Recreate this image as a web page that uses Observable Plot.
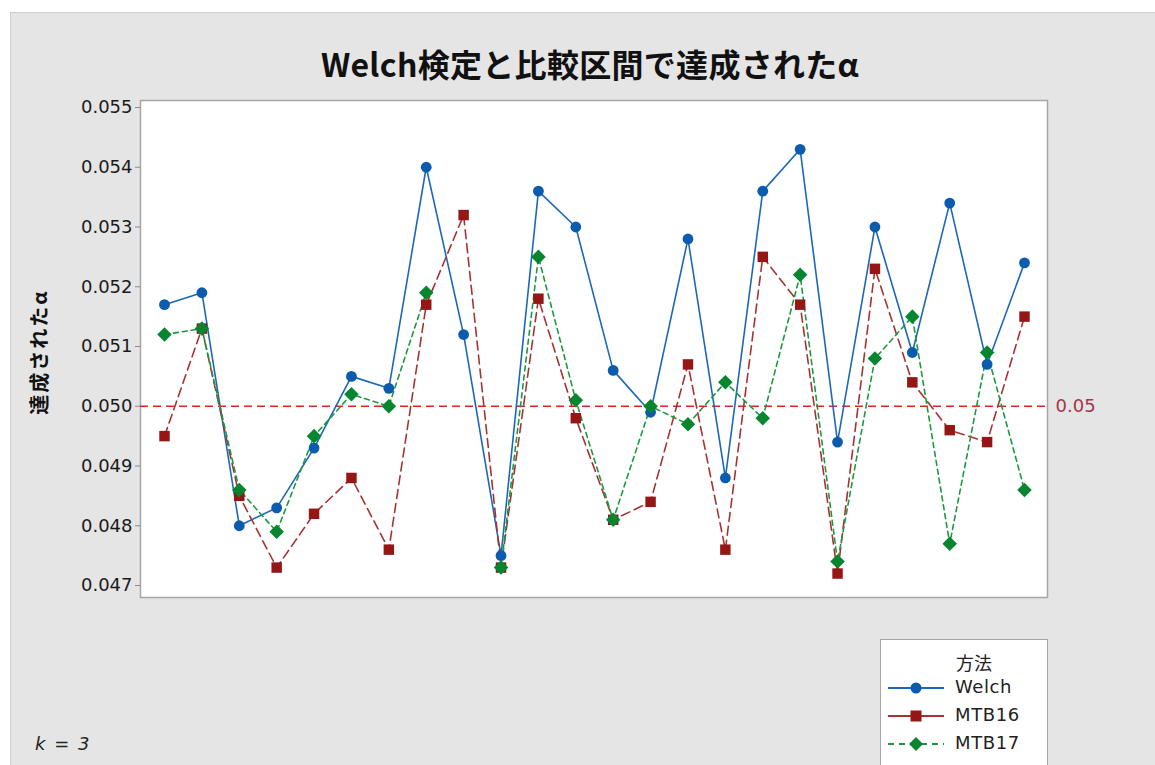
<!DOCTYPE html>
<html>
<head>
<meta charset="utf-8">
<script src="https://cdn.jsdelivr.net/npm/d3@7"></script>
<script src="https://cdn.jsdelivr.net/npm/@observablehq/plot@0.6"></script>
<style>
  html, body { margin: 0; padding: 0; background: #ffffff; }
  #page { position: relative; width: 1155px; height: 765px; overflow: hidden; }
  #bg { position: absolute; left: 10px; top: 12px; width: 1145px; height: 753px; background: #e5e5e5; border-left: 1px solid #cfcfcf; border-top: 1px solid #cfcfcf; box-sizing: border-box; }
  #chart { position: absolute; left: 0; top: 0; }
  #title { position: absolute; left: 0; width: 1180px; top: 40px; text-align: center; font-family: "Noto Sans CJK JP", sans-serif; font-weight: 700; font-size: 32px; color: #111; letter-spacing: 0.3px; }
  #ylab { position: absolute; left: 38px; top: 352px; transform: translate(-50%, -50%) rotate(-90deg); white-space: nowrap; font-family: "Noto Sans CJK JP", sans-serif; font-weight: 700; font-size: 20px; color: #111; letter-spacing: 2px; }
  #caption { position: absolute; left: 35px; top: 733px; font-family: "DejaVu Sans", sans-serif; font-style: italic; font-size: 18px; word-spacing: 3px; color: #222; }
  #legend { position: absolute; left: 880px; top: 639px; width: 168px; height: 140px; background: #fff; border: 1px solid #a6a6a6; box-sizing: border-box; font-family: "DejaVu Sans", sans-serif; color: #222; }
  #legend .lt { position: absolute; left: 75px; top: 9px; font-family: "Noto Sans CJK JP", sans-serif; font-size: 18px; }
  #legend .row { position: absolute; left: 6px; height: 24px; }
  #legend .row svg { position: absolute; left: 0; top: 0; }
  #legend .row span { position: absolute; left: 68px; top: 0px; font-size: 18px; letter-spacing: 0.6px; white-space: nowrap; }
</style>
</head>
<body>
<div id="page">
  <div id="bg"></div>
  <div id="chart"></div>
  <div id="title">Welch検定と比較区間で達成されたα</div>
  <div id="ylab">達成されたα</div>
  <div id="caption">k = 3</div>
  <div id="legend"></div>
</div>
<script>
// ---- data ----
const runs = [1,2,3,4,5,6,7,8,9,10,11,12,13,14,15,16,17,18,19,20,21,22,23,24];
const welch = [0.0517,0.0519,0.0480,0.0483,0.0493,0.0505,0.0503,0.0540,0.0512,0.0475,0.0536,0.0530,0.0506,0.0499,0.0528,0.0488,0.0536,0.0543,0.0494,0.0530,0.0509,0.0534,0.0507,0.0524];
const mtb16 = [0.0495,0.0513,0.0485,0.0473,0.0482,0.0488,0.0476,0.0517,0.0532,0.0473,0.0518,0.0498,0.0481,0.0484,0.0507,0.0476,0.0525,0.0517,0.0472,0.0523,0.0504,0.0496,0.0494,0.0515];
const mtb17 = [0.0512,0.0513,0.0486,0.0479,0.0495,0.0502,0.0500,0.0519,null,0.0473,0.0525,0.0501,0.0481,0.0500,0.0497,0.0504,0.0498,0.0522,0.0474,0.0508,0.0515,0.0477,0.0509,0.0486];
const seriesNames = ["Welch", "MTB16", "MTB17"];
const yTicks = [0.047,0.048,0.049,0.050,0.051,0.052,0.053,0.054,0.055];
const refValue = 0.05;
const refLabel = "0.05";
const legendTitle = "方法";

// ---- styles ----
const colors = {Welch: "#0b5cad", MTB16: "#961616", MTB17: "#07862f"};
const lineColors = {Welch: "#1c68b8", MTB16: "#a83232", MTB17: "#1a9a3e"};
const dashes = {Welch: null, MTB16: "9,5", MTB17: "5,4"};

const diamondSym = {
  draw(context, size) {
    const s = Math.sqrt(size / 2);
    context.moveTo(0, -s); context.lineTo(s, 0); context.lineTo(0, s); context.lineTo(-s, 0); context.closePath();
  }
};
const symbols = {Welch: "circle", MTB16: "square", MTB17: diamondSym};
const radii = {Welch: 5.4, MTB16: 5.9, MTB17: 5.8};

const valuesBy = {Welch: welch, MTB16: mtb16, MTB17: mtb17};
const rows = s => runs.map((r, i) => ({run: r, value: valuesBy[s][i] == null ? NaN : valuesBy[s][i], series: s}));

const marks = [
  Plot.frame({fill: "#ffffff", stroke: "#a6a6a6", strokeWidth: 1.5}),
  Plot.ruleY([refValue], {stroke: "#e02424", strokeWidth: 1.6, strokeDasharray: "8,5"}),
];
for (const s of seriesNames) {
  marks.push(Plot.line(rows(s), {x: "run", y: "value", stroke: lineColors[s], strokeWidth: 1.6, strokeDasharray: dashes[s]}));
}
for (const s of seriesNames) {
  marks.push(Plot.dot(rows(s).filter(d => !isNaN(d.value)), {x: "run", y: "value", fill: colors[s], stroke: "none", symbol: symbols[s], r: radii[s]}));
}
marks.push(Plot.text([refValue], {y: d => d, frameAnchor: "right", dx: 8, text: () => refLabel, textAnchor: "start", fill: "#a8344c", fontSize: 18, fontFamily: "DejaVu Sans"}));
marks.push(Plot.axisY({ticks: yTicks, tickFormat: d3.format(".3f"), tickSize: 5, tickPadding: 3, fontSize: 18, fontFamily: "DejaVu Sans", fill: "#1a1a1a", stroke: "#8a8a8a", label: null}));

const pxPer = 59.75e3;
const chart = Plot.plot({
  width: 1155,
  height: 765,
  marginLeft: 140,
  marginRight: 108,
  marginTop: 100,
  marginBottom: 168,
  style: {background: "transparent", fontFamily: "DejaVu Sans", fontSize: "18px", overflow: "visible"},
  x: {domain: [1 - 24 / 37.39, 24 + 23 / 37.39], axis: null},
  y: {domain: [0.047 - 12 / pxPer, 0.055 + 7 / pxPer], axis: null},
  marks
});
document.getElementById("chart").appendChild(chart);

// ---- legend ----
const leg = document.getElementById("legend");
const lt = document.createElement("div"); lt.className = "lt"; lt.textContent = legendTitle; leg.appendChild(lt);
const symPath = {
  Welch: '<circle cx="29" cy="12" r="5.5"/>',
  MTB16: '<rect x="23.5" y="6.5" width="11" height="11"/>',
  MTB17: '<path d="M29,5 L36,12 L29,19 L22,12 Z"/>'
};
seriesNames.forEach((s, i) => {
  const row = document.createElement("div");
  row.className = "row";
  row.style.top = (36 + i * 28) + "px";
  row.style.width = "160px";
  const dash = s === "MTB17" ? 'stroke-dasharray="6,5"' : '';
  row.innerHTML = `<svg width="62" height="24"><line x1="1" y1="12" x2="57" y2="12" stroke="${lineColors[s]}" stroke-width="1.8" ${dash}/><g fill="${colors[s]}">${symPath[s]}</g></svg><span>${s}</span>`;
  leg.appendChild(row);
});
</script>
</body>
</html>
